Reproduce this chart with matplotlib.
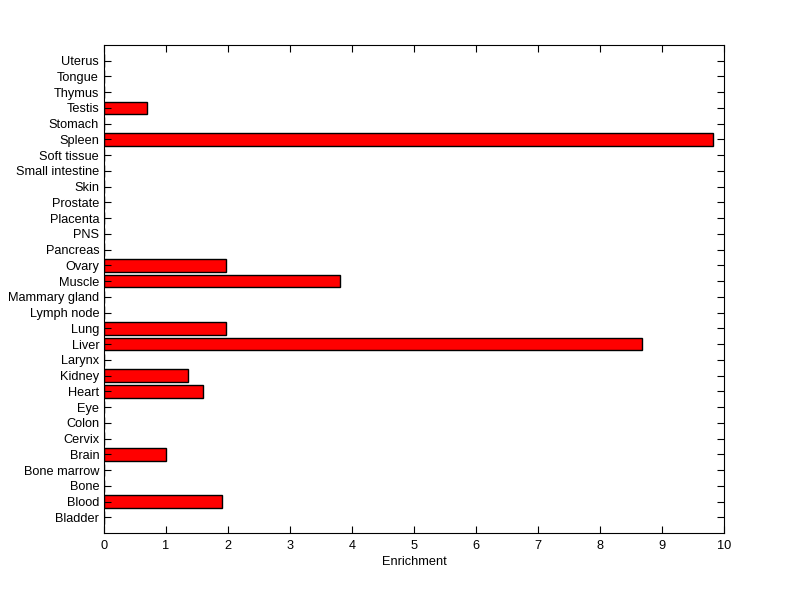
import matplotlib
matplotlib.use("Agg")
import matplotlib.pyplot as plt

tissues = ["Bladder", "Blood", "Bone", "Bone marrow", "Brain", "Cervix", "Colon", "Eye",
           "Heart", "Kidney", "Larynx", "Liver", "Lung", "Lymph node", "Mammary gland",
           "Muscle", "Ovary", "Pancreas", "PNS", "Placenta", "Prostate", "Skin",
           "Small intestine", "Soft tissue", "Spleen", "Stomach", "Testis", "Thymus",
           "Tongue", "Uterus"]
enrichment = [0, 1.90, 0, 0, 1.00, 0, 0, 0,
              1.60, 1.36, 0, 8.67, 1.97, 0, 0,
              3.80, 1.97, 0, 0, 0, 0, 0,
              0, 0, 9.83, 0, 0.70, 0,
              0, 0]
xticks = list(range(0, 11))

plt.rcParams['font.family'] = ['Liberation Sans', 'DejaVu Sans']
fig = plt.figure(figsize=(8, 5.99), dpi=100)
ax = fig.add_axes([0.13, 0.11, 0.775, 0.815])
pos = list(range(1, len(tissues) + 1))
ax.barh(pos, enrichment, height=0.8, color='#ff0000', edgecolor='black', linewidth=1)
ax.set_ylim(0, 31)
ax.set_xlim(0, 10)
ax.set_yticks(pos)
ax.set_yticklabels(tissues)
ax.set_xticks(xticks)
ax.tick_params(direction='in', top=True, right=True, labelsize=9.2, length=5, width=0.8)
ax.tick_params(axis='x', pad=5)
ax.set_xlabel("Enrichment", fontsize=9.2, labelpad=3)
for s in ax.spines.values():
    s.set_linewidth(0.8)
fig.savefig("out.png", dpi=100)
